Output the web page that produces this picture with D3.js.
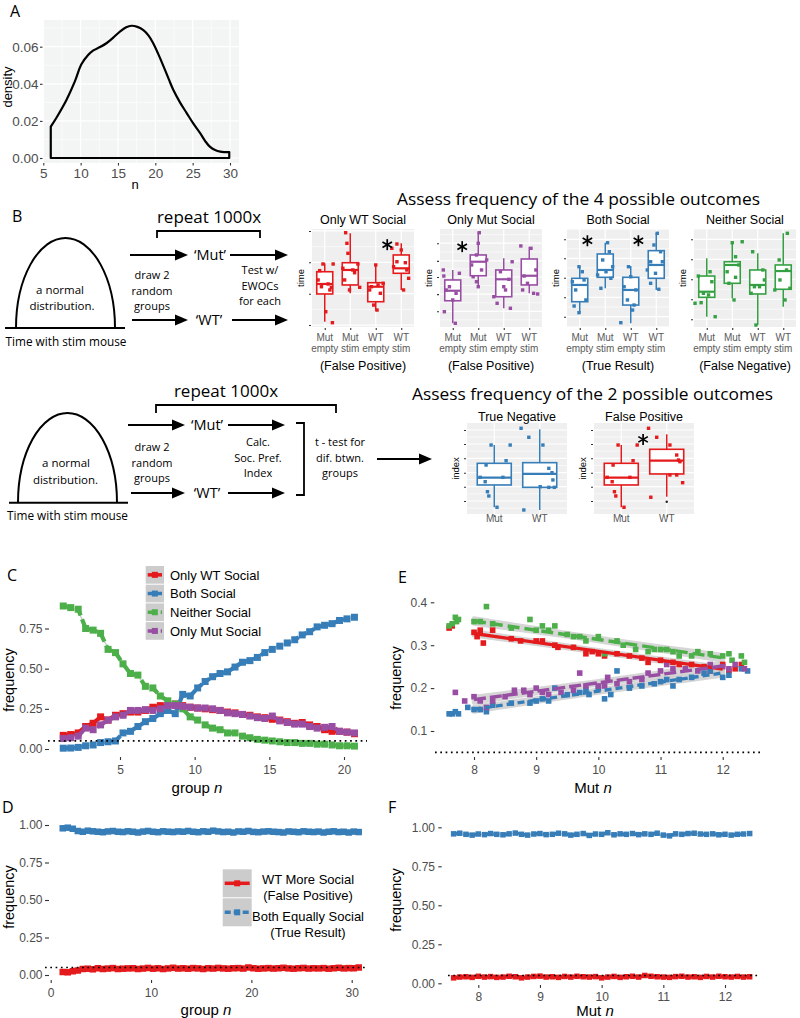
<!DOCTYPE html>
<html><head><meta charset="utf-8">
<script src="https://cdn.jsdelivr.net/npm/d3@7"></script>
<style>body{margin:0;background:#fff}svg{display:block}</style>
</head><body>
<svg id="fig" width="800" height="1018"></svg>
<script>
// ================= DATA =================
// Panel A: density of n
const densN = [6,6.8,8.1,9.2,10.1,11,11.7,12.6,13.5,14.4,15.3,16.1,16.8,17.6,18.4,19.1,19.7,20.4,21.1,21.8,22.4,23.3,24.2,25.1,26,26.7,27.3,28,28.7,29.3,29.9];
const densY = [0.0169,0.022,0.0313,0.041,0.0505,0.0555,0.058,0.0598,0.062,0.065,0.0683,0.0705,0.0713,0.0707,0.069,0.066,0.062,0.056,0.0494,0.0425,0.0368,0.030,0.0242,0.0185,0.0134,0.009,0.0061,0.0043,0.0034,0.0032,0.0032];
const aXTicks = [5,10,15,20,25,30];
const aYTicks = [0,0.02,0.04,0.06];

// Panel B: box plots (values in arbitrary "time"/"index" units 0-100)
const boxCats = ["Mut empty","Mut stim","WT empty","WT stim"];
const outcomeTitles = ["Only WT Social","Only Mut Social","Both Social","Neither Social"];
const outcomeNotes = ["(False Positive)","(False Positive)","(True Result)","(False Negative)"];
// [lo, q1, median, q3, hi]
const boxStats4 = [
  [[5.4,33.7,43.9,56.4,65.0],[34.4,42.9,58.2,65.6,95.6],[16.6,25.8,41.1,45.2,63.3],[37.8,54.8,59.9,73.5,85.4]],
  [[3.8,26.8,37.0,48.0,58.2],[41.1,52.3,66.6,73.5,97.2],[19.1,30.9,48.7,58.2,70.1],[34.4,42.9,52.3,69.4,81.9]],
  [[14.0,25.8,42.9,49.7,61.5],[39.5,50.7,58.2,74.5,86.0],[3.8,22.4,37.8,50.7,62.2],[37.8,49.7,63.3,77.9,96.2]],
  [[10.5,30.3,36.0,52.0,70.1],[29.3,44.6,63.3,66.6,86.0],[2.0,33.7,42.9,58.2,75.2],[20.7,38.5,57.1,63.3,95.6]]
];
// jittered points: [jitter (fraction of category step), value]
const boxPts4 = [
  [
    [[-0.07,64.3],[-0.2,57.5],[0.33,64.3],[0.13,43.9],[0.26,40.5],[-0.13,41.1],[0.04,15.6],[0.3,4.4],[-0.26,48],[0.2,37.8]],
    [[-0.18,96.2],[-0.13,85.4],[-0.09,75.2],[0.3,64.3],[0.17,55.4],[-0.22,48],[-0.03,37.8],[0.37,40.5],[0.1,58.2],[-0.29,59.9]],
    [[0,63.3],[0.09,42.9],[-0.17,41.1],[0.18,34.4],[-0.08,22.4],[0.05,17.3],[-0.24,37.8],[0.29,44.6]],
    [[-0.37,80.3],[-0.17,84.7],[0,78.6],[-0.17,66.6],[0.16,65.6],[0.29,49.7],[0.09,37.8],[-0.3,61.5],[0.22,58.2]]
  ],
  [
    [[-0.37,58.2],[-0.35,52],[0.26,54.8],[-0.13,41.1],[-0.26,37.8],[0.13,34.4],[-0.33,15.6],[0.1,3.8],[0,27.6]],
    [[0.04,96.2],[0,85.4],[-0.07,73.5],[0.33,68.4],[-0.26,63.3],[0.13,58.2],[-0.07,46.2],[0,41.1],[-0.2,51.3]],
    [[0.33,66.6],[-0.13,56.4],[0.2,48.7],[0,41.1],[-0.39,30.9],[-0.26,24.2],[0.26,19.1],[0.07,37.8]],
    [[-0.33,82.7],[0.07,80.3],[0.26,58.2],[-0.2,52],[-0.07,44.6],[0.17,34.4],[0.33,33.7],[-0.26,37.8]]
  ],
  [
    [[-0.03,61.5],[0.1,56.4],[-0.29,46.2],[0.17,48],[-0.16,37.8],[0.24,27.6],[-0.22,21.4],[-0.03,14.6]],
    [[0.09,86],[0.16,76.8],[-0.1,68.4],[0.29,61.5],[0.03,56.4],[-0.3,53.1],[-0.17,39.5],[0.22,49.7]],
    [[-0.09,61.5],[0,51.3],[-0.26,41.1],[0.2,37.8],[-0.13,27.6],[0.13,22.4],[-0.39,4.4],[0.07,17.3]],
    [[0.04,95.6],[-0.09,83.7],[0.17,76.8],[-0.22,66.6],[0.24,66.6],[-0.03,54.8],[-0.22,44.6],[0.1,38.5],[-0.35,58.2]]
  ],
  [
    [[-0.33,52],[0.13,56.4],[-0.13,34.4],[0.07,32.7],[-0.46,24.2],[-0.22,24.8],[0.33,10.5],[0.2,46.2]],
    [[0,86],[0.39,87],[0.13,71.7],[0.26,63.3],[-0.2,56.4],[0.13,50.7],[0.07,27.6],[-0.13,44.6]],
    [[-0.2,76.8],[0.2,58.2],[-0.13,41.1],[0.07,41.1],[-0.26,34.4],[-0.07,2],[0.26,48]],
    [[0.16,95.6],[-0.16,68.4],[0.13,58.2],[-0.33,37.8],[0.26,39.5],[0.07,27.6],[-0.13,48]]
  ]
];
const boxTicks4 = [[2,34,66,98],[16,33.5,51,67.5,85.5],[10.5,30.3,50.3,70.1,89.5],[7.9,28.3,48.7,69.1,89.5]];
// significance stars: [category index, offset (steps), value]
const stars4 = [[[3,-0.55,84]],[[0,0.37,82]],[[0,0.3,88],[2,0.3,88]],[]];

const idxCats = ["Mut","WT"];
const idxTitles = ["True Negative","False Positive"];
const idxStats = [
  [[7.4,31.9,39.9,55.7,75.8],[4.4,29.3,44.0,56.4,93.1]],
  [[7.4,31.9,39.9,55.7,75.8],[19.0,44.0,58.6,71.1,87.6]]
];
const idxPtsMut = [[-0.07,75.8],[0.35,75.8],[0.26,58.6],[-0.18,53.8],[-0.31,40.3],[-0.2,35.5],[0.19,40.3],[-0.15,24.5],[-0.12,19.8],[0.06,7.4]];
const idxPts = [
  [idxPtsMut, [[-0.41,94.2],[-0.24,84.3],[0.07,75.8],[0.2,50.2],[0.27,45.4],[0.01,30],[0.2,29.3],[0.32,29.3],[0.29,37.4],[-0.35,4.4]]],
  [idxPtsMut, [[-0.4,94.2],[-0.22,84.3],[0.07,75.8],[0.22,64.8],[0.26,59.3],[0.29,57.5],[0.07,42.9],[0.22,42.9],[0.35,34.4],[-0.35,18.4]]]
];
const idxOutliers = [[[],[]],[[],[13.5]]];
const idxTicks = [14.3,30,45.4,61.2,76.9,92.3];
const idxStars = [[],[[0,0.48,82]]];

// Panel C: frequency vs group n
const cN = [1.2,1.7,2.2,2.7,3.2,3.7,4.2,4.7,5.2,5.7,6.2,6.7,7.2,7.7,8.2,8.7,9.2,9.7,10.2,10.7,11.2,11.7,12.2,12.7,13.2,13.7,14.2,14.7,15.2,15.7,16.2,16.7,17.2,17.7,18.2,18.7,19.2,19.7,20.2,20.7];
const cOnlyWT = [0.085,0.09,0.10,0.14,0.16,0.20,0.18,0.21,0.22,0.23,0.23,0.24,0.26,0.27,0.27,0.28,0.27,0.26,0.255,0.25,0.245,0.24,0.23,0.225,0.215,0.21,0.20,0.195,0.185,0.18,0.17,0.16,0.165,0.15,0.14,0.12,0.11,0.11,0.105,0.095];
const cBoth = [0.005,0.006,0.01,0.02,0.025,0.04,0.045,0.05,0.10,0.11,0.14,0.17,0.19,0.22,0.24,0.22,0.34,0.33,0.38,0.42,0.45,0.47,0.48,0.51,0.54,0.55,0.57,0.60,0.62,0.64,0.66,0.68,0.71,0.73,0.76,0.77,0.78,0.80,0.81,0.82];
const cNeither = [0.89,0.88,0.87,0.75,0.74,0.72,0.62,0.60,0.53,0.47,0.46,0.39,0.38,0.33,0.30,0.28,0.25,0.20,0.18,0.15,0.13,0.12,0.10,0.10,0.08,0.07,0.06,0.055,0.05,0.045,0.04,0.04,0.035,0.035,0.03,0.03,0.025,0.02,0.02,0.018];
const cOnlyMut = [0.065,0.07,0.08,0.13,0.12,0.15,0.18,0.20,0.21,0.24,0.24,0.245,0.24,0.25,0.27,0.27,0.265,0.26,0.255,0.255,0.25,0.24,0.225,0.22,0.215,0.205,0.195,0.19,0.205,0.175,0.165,0.155,0.155,0.14,0.13,0.135,0.14,0.11,0.105,0.10];
const cLabels = ["Only WT Social","Both Social","Neither Social","Only Mut Social"];
const cXTicks = [5,10,15,20];
const cYTicks = [0,0.25,0.5,0.75];
const alphaLine = 0.05;

// Panel E: frequency vs Mut n ([x, y])
const eOnlyWT = [[7.6,0.34],[7.65,0.345],[8.0,0.33],[8.05,0.32],[8.1,0.335],[8.15,0.305],[8.3,0.335],[8.6,0.315],[8.75,0.31],[9.0,0.31],[9.1,0.31],[9.3,0.3],[9.35,0.295],[9.6,0.295],[9.8,0.28],[9.9,0.285],[10.0,0.28],[10.1,0.275],[10.3,0.28],[10.5,0.275],[10.7,0.27],[10.8,0.26],[11.0,0.265],[11.2,0.26],[11.3,0.255],[11.5,0.255],[11.7,0.25],[11.8,0.24],[12.0,0.255],[12.1,0.24],[12.2,0.245],[12.3,0.255]];
const eBoth = [[7.6,0.14],[7.65,0.14],[7.7,0.145],[7.75,0.14],[7.9,0.155],[8.0,0.15],[8.1,0.15],[8.2,0.145],[8.3,0.16],[8.6,0.165],[8.9,0.165],[9.0,0.17],[9.1,0.175],[9.2,0.17],[9.3,0.2],[9.5,0.185],[9.7,0.19],[9.8,0.195],[9.85,0.185],[10.0,0.2],[10.1,0.175],[10.2,0.185],[10.3,0.24],[10.5,0.2],[10.7,0.205],[10.9,0.21],[11.0,0.215],[11.1,0.22],[11.2,0.205],[11.3,0.22],[11.5,0.225],[11.7,0.235],[11.8,0.24],[12.0,0.225],[12.1,0.23],[12.3,0.245],[12.4,0.24]];
const eNeither = [[7.6,0.345],[7.65,0.35],[7.7,0.365],[7.72,0.355],[7.75,0.36],[8.0,0.355],[8.1,0.355],[8.2,0.39],[8.3,0.35],[8.6,0.34],[8.9,0.36],[9.0,0.335],[9.1,0.345],[9.2,0.335],[9.3,0.345],[9.5,0.325],[9.6,0.32],[9.7,0.32],[9.8,0.31],[10.0,0.32],[10.1,0.28],[10.3,0.31],[10.4,0.3],[10.6,0.29],[10.8,0.285],[10.9,0.29],[11.0,0.29],[11.1,0.29],[11.2,0.285],[11.3,0.275],[11.5,0.275],[11.6,0.285],[11.8,0.28],[12.0,0.275],[12.1,0.28],[12.15,0.265],[12.3,0.275],[12.35,0.26]];
const eOnlyMut = [[7.7,0.19],[7.85,0.17],[8.0,0.18],[8.1,0.17],[8.2,0.155],[8.3,0.17],[8.5,0.18],[8.65,0.195],[8.8,0.195],[8.9,0.185],[9.0,0.2],[9.1,0.19],[9.2,0.185],[9.4,0.19],[9.6,0.195],[9.7,0.235],[9.8,0.205],[10.0,0.205],[10.1,0.205],[10.15,0.225],[10.3,0.21],[10.5,0.215],[10.7,0.22],[10.8,0.235],[11.0,0.24],[11.1,0.255],[11.2,0.245],[11.4,0.245],[11.6,0.24],[11.8,0.255],[12.0,0.25],[12.1,0.245],[12.2,0.255],[12.35,0.245]];
const eFitRange = [8,12];
const eXTicks = [8,9,10,11,12];
const eYTicks = [0.1,0.2,0.3,0.4];

// Panel D: frequency vs group n, null effect
const dN = [1.2,1.7,2.2,2.7,3.2,3.7,4.2,4.7,5.2,5.7,6.2,6.7,7.2,7.7,8.2,8.7,9.2,9.7,10.2,10.7,11.2,11.7,12.2,12.7,13.2,13.7,14.2,14.7,15.2,15.7,16.2,16.7,17.2,17.7,18.2,18.7,19.2,19.7,20.2,20.7,21.2,21.7,22.2,22.7,23.2,23.7,24.2,24.7,25.2,25.7,26.2,26.7,27.2,27.7,28.2,28.7,29.2,29.7,30.2,30.7];
const dFalsePos = [0.02,0.018,0.025,0.03,0.04,0.042,0.038,0.045,0.04,0.043,0.046,0.04,0.042,0.044,0.045,0.04,0.043,0.047,0.042,0.045,0.04,0.044,0.048,0.043,0.045,0.042,0.046,0.044,0.04,0.045,0.043,0.047,0.044,0.042,0.045,0.046,0.043,0.05,0.045,0.042,0.044,0.046,0.043,0.045,0.048,0.044,0.042,0.045,0.047,0.043,0.045,0.044,0.046,0.042,0.045,0.048,0.044,0.046,0.045,0.05];
const dTrue = [0.978,0.982,0.975,0.96,0.955,0.962,0.958,0.955,0.952,0.957,0.96,0.955,0.953,0.958,0.955,0.95,0.956,0.96,0.955,0.952,0.958,0.955,0.953,0.957,0.955,0.96,0.955,0.952,0.958,0.955,0.962,0.957,0.953,0.955,0.95,0.957,0.955,0.96,0.954,0.952,0.956,0.958,0.955,0.953,0.95,0.957,0.955,0.952,0.958,0.955,0.953,0.956,0.95,0.955,0.958,0.953,0.955,0.95,0.956,0.953];
const dLabels = [["WT More Social","(False Positive)"],["Both Equally Social","(True Result)"]];
const dXTicks = [0,10,20,30];
const dYTicks = [0,0.25,0.5,0.75,1];

// Panel F: frequency vs Mut n, null effect
const fN = [7.6,7.7,7.8,7.9,8.0,8.1,8.2,8.3,8.4,8.5,8.6,8.7,8.8,8.9,9.0,9.1,9.2,9.3,9.4,9.5,9.6,9.7,9.8,9.9,10.0,10.1,10.2,10.3,10.4,10.5,10.6,10.7,10.8,10.9,11.0,11.1,11.2,11.3,11.4,11.5,11.6,11.7,11.8,11.9,12.0,12.1,12.2,12.3,12.4];
const fTrue = [0.958,0.962,0.955,0.95,0.957,0.953,0.96,0.955,0.952,0.958,0.963,0.955,0.95,0.957,0.96,0.953,0.955,0.962,0.958,0.95,0.955,0.96,0.948,0.957,0.955,0.965,0.952,0.958,0.955,0.96,0.953,0.958,0.955,0.962,0.95,0.945,0.958,0.955,0.96,0.962,0.957,0.955,0.958,0.952,0.955,0.95,0.955,0.957,0.96];
const fFalsePos = [0.035,0.04,0.042,0.038,0.045,0.04,0.043,0.038,0.04,0.045,0.042,0.035,0.04,0.044,0.046,0.04,0.042,0.038,0.044,0.04,0.045,0.042,0.04,0.043,0.035,0.04,0.044,0.038,0.042,0.045,0.04,0.05,0.045,0.042,0.04,0.038,0.043,0.045,0.04,0.042,0.038,0.044,0.04,0.045,0.042,0.04,0.044,0.04,0.042];
const fXTicks = [8,9,10,11,12];

// ================= STYLE =================
const RED = "#E41A1C", BLUE = "#377EB8", GREEN = "#4DAF4A", PURPLE = "#984EA3", GREENBOX = "#35a043";
const GG = "'Liberation Sans', Arial, sans-serif";
const SF = "'Open Sans', 'Liberation Sans', sans-serif";
const TICKCOL = "#4d4d4d";
const svg = d3.select("#fig");

function styleAxis(sel, size) {
  sel.select(".domain").remove();
  sel.attr("font-family", GG).attr("font-size", size);
  sel.selectAll(".tick line").attr("stroke", "#333").attr("stroke-width", 1.1);
  sel.selectAll(".tick text").attr("fill", TICKCOL);
}
function txt(g, s, x, y, o = {}) {
  const t = g.append("text").attr("x", x).attr("y", y).text(s)
    .attr("font-family", o.ff || SF).attr("font-size", o.fs || 12)
    .attr("text-anchor", o.anchor || "middle").attr("fill", o.fill || "#000");
  if (o.rot) t.attr("transform", `rotate(${o.rot},${x},${y})`);
  if (o.italic) t.attr("font-style", "italic");
  return t;
}
function arrow(g, x1, x2, y) {
  g.append("line").attr("x1", x1).attr("x2", x2 - 10).attr("y1", y).attr("y2", y)
    .attr("stroke", "#000").attr("stroke-width", 2);
  g.append("path").attr("d", `M${x2 - 13},${y - 5.5}L${x2},${y}L${x2 - 13},${y + 5.5}Z`).attr("fill", "#000");
}
function asterisk(g, cx, cy, r) {
  for (let k = 0; k < 3; k++) {
    const a = Math.PI / 2 + k * Math.PI / 3;
    g.append("line").attr("x1", cx + r * Math.cos(a)).attr("y1", cy + r * Math.sin(a))
      .attr("x2", cx - r * Math.cos(a)).attr("y2", cy - r * Math.sin(a))
      .attr("stroke", "#000").attr("stroke-width", 1.7);
  }
}
function dotted(g, x1, x2, y) {
  g.append("line").attr("x1", x1).attr("x2", x2).attr("y1", y).attr("y2", y)
    .attr("stroke", "#000").attr("stroke-width", 1.7).attr("stroke-dasharray", "1.7,3.6");
}

// ================= PANEL A =================
{
  const g = svg.append("g");
  const x = d3.scaleLinear().domain([5, 30]).range([43.3, 230]);
  const y = d3.scaleLinear().domain([0, 0.06]).range([158, 46.7]);
  const X0 = 43, X1 = 239, Y0 = 20, Y1 = 163;
  g.append("rect").attr("x", X0).attr("y", Y0).attr("width", X1 - X0).attr("height", Y1 - Y0).attr("fill", "#f3f4f4");
  const xm = aXTicks.slice(0, -1).map(d => d + 2.5);
  const ym = [0.01, 0.03, 0.05, 0.07];
  g.selectAll(null).data(xm).join("line").attr("x1", d => x(d)).attr("x2", d => x(d)).attr("y1", Y0).attr("y2", Y1).attr("stroke", "#fff").attr("stroke-width", 0.6);
  g.selectAll(null).data(ym).join("line").attr("y1", d => y(d)).attr("y2", d => y(d)).attr("x1", X0).attr("x2", X1).attr("stroke", "#fff").attr("stroke-width", 0.6);
  g.selectAll(null).data(aXTicks).join("line").attr("x1", d => x(d)).attr("x2", d => x(d)).attr("y1", Y0).attr("y2", Y1).attr("stroke", "#fff").attr("stroke-width", 1.2);
  g.selectAll(null).data(aYTicks).join("line").attr("y1", d => y(d)).attr("y2", d => y(d)).attr("x1", X0).attr("x2", X1).attr("stroke", "#fff").attr("stroke-width", 1.2);
  const pts = densN.map((n, i) => [x(n), y(densY[i])]);
  const curve = d3.line().curve(d3.curveCatmullRom.alpha(0.5))(pts);
  const d = `M${x(densN[0])},${y(0)}L` + curve.slice(1) + `L${x(densN[densN.length - 1])},${y(0)}Z`;
  g.append("path").attr("d", d).attr("fill", "none").attr("stroke", "#000").attr("stroke-width", 2.2).attr("stroke-linejoin", "round");
  g.append("g").attr("transform", `translate(${X0 - 0.5},0)`)
    .call(d3.axisLeft(y).tickValues(aYTicks).tickFormat(d3.format(".2f")).tickSize(2.5).tickPadding(1.5))
    .call(s => styleAxis(s, 13.5));
  g.append("g").attr("transform", `translate(0,${Y1})`)
    .call(d3.axisBottom(x).tickValues(aXTicks).tickFormat(d3.format("d")).tickSize(2.5).tickPadding(3))
    .call(s => styleAxis(s, 13.5));
  txt(g, "density", 12, 87, { ff: GG, fs: 13, rot: -90 });
  txt(g, "n", 135, 189, { ff: GG, fs: 13 });
  txt(g, "A", 10, 17, { fs: 16, anchor: "start" });
}

// ================= PANEL B schematic =================
function bell(g, cx, base, a, b, x0, x1) {
  g.append("path").attr("d", `M${cx - a},${base}A${a},${b} 0 0 1 ${cx + a},${base}`)
    .attr("fill", "none").attr("stroke", "#000").attr("stroke-width", 2);
  g.append("line").attr("x1", x0).attr("x2", x1).attr("y1", base).attr("y2", base).attr("stroke", "#000").attr("stroke-width", 2);
}
{
  const g = svg.append("g");
  txt(g, "B", 12, 221.5, { fs: 16, anchor: "start" });
  // top row
  bell(g, 65.5, 328, 49.5, 90, 5, 125);
  txt(g, "a normal", 60, 294, { fs: 11.5 });
  txt(g, "distribution.", 62, 309.5, { fs: 11.5 });
  txt(g, "Time  with stim mouse", 66, 345.5, { fs: 11.8 });
  txt(g, "repeat 1000x", 209, 223, { fs: 17 });
  g.append("path").attr("d", "M157,238V231H260V238").attr("fill", "none").attr("stroke", "#000").attr("stroke-width", 1.8);
  arrow(g, 130, 188, 255); arrow(g, 230, 288, 255);
  arrow(g, 132, 188, 320); arrow(g, 232, 288, 320);
  txt(g, "\u2018Mut\u2019", 210, 260, { fs: 14.5 });
  txt(g, "\u2018WT\u2019", 209, 325, { fs: 14.5 });
  ["draw 2", "random", "groups"].forEach((s, i) => txt(g, s, 152, 279 + i * 15.5, { fs: 11 }));
  ["Test w/", "EWOCs", "for each"].forEach((s, i) => txt(g, s, 260, 274 + i * 15.5, { fs: 11 }));
  txt(g, "Assess frequency of the 4 possible outcomes", 578.5, 205, { fs: 16 }).attr("textLength", 363).attr("lengthAdjust", "spacingAndGlyphs");

  // bottom row
  bell(g, 67.5, 502.7, 49.5, 89.7, 9, 128);
  txt(g, "a normal", 66, 467, { fs: 11.5 });
  txt(g, "distribution.", 65.5, 484, { fs: 11.5 });
  txt(g, "Time  with stim mouse", 67.5, 520, { fs: 11.8 });
  txt(g, "repeat 1000x", 226, 397, { fs: 17 });
  g.append("path").attr("d", "M156,413V405H336V413").attr("fill", "none").attr("stroke", "#000").attr("stroke-width", 1.8);
  arrow(g, 128, 185, 425); arrow(g, 228, 285, 425);
  arrow(g, 131, 185, 493); arrow(g, 228, 285, 493);
  txt(g, "\u2018Mut\u2019", 207, 430, { fs: 14.5 });
  txt(g, "\u2018WT\u2019", 207, 498, { fs: 14.5 });
  ["draw 2", "random", "groups"].forEach((s, i) => txt(g, s, 152, 451 + i * 15.5, { fs: 11 }));
  ["Calc.", "Soc. Pref.", "Index"].forEach((s, i) => txt(g, s, 258, 446 + i * 15.5, { fs: 11 }));
  g.append("path").attr("d", "M296,423H304V495H296").attr("fill", "none").attr("stroke", "#000").attr("stroke-width", 1.8);
  ["t - test for", "dif. btwn.", "groups"].forEach((s, i) => txt(g, s, 340, 446 + i * 15.5, { fs: 11 }));
  arrow(g, 377, 432, 459);
  txt(g, "Assess frequency of the 2 possible outcomes", 592.5, 400, { fs: 16 }).attr("textLength", 361).attr("lengthAdjust", "spacingAndGlyphs");
}

// ================= PANEL B box plots =================
function boxPanel(o) {
  const g = svg.append("g");
  const x = d3.scalePoint().domain(d3.range(o.stats.length)).range([o.x0, o.x1]).padding(o.pad);
  const step = x.step();
  const y = d3.scaleLinear().domain([0, 100]).range([o.y1, o.y0]);
  g.append("rect").attr("x", o.x0).attr("y", o.y0).attr("width", o.x1 - o.x0).attr("height", o.y1 - o.y0).attr("fill", "#efefef");
  const tk = o.ticks;
  const mids = tk.slice(1).map((t, i) => (t + tk[i]) / 2);
  const tstep = tk[1] - tk[0];
  mids.push(tk[tk.length - 1] + tstep / 2); mids.push(tk[0] - tstep / 2);
  g.selectAll(null).data(mids.filter(m => m > 0 && m < 100)).join("line").attr("x1", o.x0).attr("x2", o.x1)
    .attr("y1", d => y(d)).attr("y2", d => y(d)).attr("stroke", "#fff").attr("stroke-width", 0.6);
  g.selectAll(null).data(tk).join("line").attr("x1", o.x0).attr("x2", o.x1)
    .attr("y1", d => y(d)).attr("y2", d => y(d)).attr("stroke", "#fff").attr("stroke-width", 1.2);
  g.selectAll(null).data(x.domain()).join("line").attr("x1", d => x(d)).attr("x2", d => x(d))
    .attr("y1", o.y0).attr("y2", o.y1).attr("stroke", "#fff").attr("stroke-width", 1.2);
  g.append("g").attr("transform", `translate(${o.x0 - 1},0)`)
    .call(d3.axisLeft(y).tickValues(tk).tickFormat("").tickSize(2)).call(s => styleAxis(s, 9));
  g.append("g").attr("transform", `translate(0,${o.y1 + 1})`)
    .call(d3.axisBottom(x).tickFormat("").tickSize(2)).call(s => styleAxis(s, 9));
  o.stats.forEach((s, i) => {
    const [lo, q1, med, q3, hi] = s, cx = x(i), w = o.boxW;
    g.append("line").attr("x1", cx).attr("x2", cx).attr("y1", y(hi)).attr("y2", y(q3)).attr("stroke", o.color).attr("stroke-width", 1.5);
    g.append("line").attr("x1", cx).attr("x2", cx).attr("y1", y(q1)).attr("y2", y(lo)).attr("stroke", o.color).attr("stroke-width", 1.5);
    g.append("rect").attr("x", cx - w / 2).attr("y", y(q3)).attr("width", w).attr("height", y(q1) - y(q3))
      .attr("fill", "#fff").attr("stroke", o.color).attr("stroke-width", 1.6);
    g.append("line").attr("x1", cx - w / 2).attr("x2", cx + w / 2).attr("y1", y(med)).attr("y2", y(med)).attr("stroke", o.color).attr("stroke-width", 2.2);
    (o.outliers ? o.outliers[i] : []).forEach(v => {
      g.append("circle").attr("cx", cx).attr("cy", y(v)).attr("r", 1.2).attr("fill", "#222");
    });
  });
  o.pts.forEach((arr, i) => {
    g.selectAll(null).data(arr).join("rect")
      .attr("x", d => x(i) + d[0] * step - 1.7).attr("y", d => y(d[1]) - 1.7)
      .attr("width", 3.4).attr("height", 3.4).attr("fill", o.color);
  });
  (o.stars || []).forEach(st => asterisk(g, x(st[0]) + st[1] * step, y(st[2]), 5.5));
  txt(g, o.title, (o.x0 + o.x1) / 2, o.titleY, { ff: GG, fs: 12.5 });
  if (o.note) txt(g, o.note, (o.x0 + o.x1) / 2, o.noteY, { ff: GG, fs: 12.5 });
  txt(g, o.ylab, o.x0 - 8, (o.y0 + o.y1) / 2, { ff: GG, fs: 9.5, rot: -90 });
  o.cats.forEach((c, i) => {
    c.split(" ").forEach((part, j) => txt(g, part, x(i), o.catY + j * 11.5, { ff: GG, fs: 10, fill: "#5a5a5a" }));
  });
}
const topX0 = [312, 440, 567, 694];
const topColors = [RED, PURPLE, BLUE, GREENBOX];
boxStats4.forEach((st, k) => boxPanel({
  x0: topX0[k], x1: topX0[k] + 102, y0: 229, y1: 327, pad: 0.5, boxW: 16,
  stats: st, pts: boxPts4[k], ticks: boxTicks4[k], color: topColors[k], stars: stars4[k],
  title: outcomeTitles[k], titleY: 223.5, note: outcomeNotes[k], noteY: 369.5,
  ylab: "time", cats: boxCats, catY: 340.5
}));
const idxX0 = [467, 594];
const idxColors = [BLUE, RED];
idxStats.forEach((st, k) => boxPanel({
  x0: idxX0[k], x1: idxX0[k] + 100, y0: 423, y1: 514, pad: 0.6, boxW: 34,
  stats: st, pts: idxPts[k], ticks: idxTicks, color: idxColors[k], stars: idxStars[k], outliers: idxOutliers[k],
  title: idxTitles[k], titleY: 420.5, ylab: "index", cats: idxCats, catY: 522
}));

// ================= series helper =================
function series(g, xs, ys, sx, sy, color, dash, size, lw, smooth) {
  const pts = xs.map((v, i) => [sx(v), sy(ys[i])]);
  if (smooth) g.append("path").attr("d", d3.line().curve(d3.curveBasis)(pts)).attr("fill", "none").attr("stroke", "#c8c8c8").attr("stroke-width", 1.2);
  g.append("path").attr("d", d3.line()(pts)).attr("fill", "none").attr("stroke", color)
    .attr("stroke-width", lw).attr("stroke-dasharray", dash);
  g.selectAll(null).data(pts).join("rect").attr("x", d => d[0] - size / 2).attr("y", d => d[1] - size / 2)
    .attr("width", size).attr("height", size).attr("fill", color);
}
function legendKey(g, x0, y0, w, h, color, dash) {
  g.append("rect").attr("x", x0).attr("y", y0).attr("width", w).attr("height", h).attr("fill", "#cccccc");
  g.append("line").attr("x1", x0 + 2).attr("x2", x0 + w - 2).attr("y1", y0 + h / 2).attr("y2", y0 + h / 2)
    .attr("stroke", color).attr("stroke-width", 3.5).attr("stroke-dasharray", dash);
  g.append("rect").attr("x", x0 + w / 2 - 3).attr("y", y0 + h / 2 - 3).attr("width", 6).attr("height", 6).attr("fill", color);
}

// ================= PANEL C =================
{
  const g = svg.append("g");
  const x = d3.scaleLinear().domain([5, 20]).range([120, 344]);
  const y = d3.scaleLinear().domain([0, 0.75]).range([749, 628.5]);
  const cSeries = [cOnlyWT, cBoth, cNeither, cOnlyMut];
  const cCols = [RED, BLUE, GREEN, PURPLE];
  const cDash = [null, "6,3", "9,4", "10,3"];
  cSeries.forEach((s, i) => g.append("path").attr("d", d3.line().curve(d3.curveBasis)(cN.map((v, j) => [x(v), y(s[j])])))
    .attr("fill", "none").attr("stroke", "#c8c8c8").attr("stroke-width", 1.2));
  cSeries.forEach((s, i) => series(g, cN, s, x, y, cCols[i], cDash[i], 7, 4.2, false));
  dotted(g, 48, 367, y(alphaLine));
  g.append("g").attr("transform", "translate(49,0)")
    .call(d3.axisLeft(y).tickValues(cYTicks).tickFormat(d3.format(".2f")).tickSize(4).tickPadding(2.5)).call(s => styleAxis(s, 12));
  g.append("g").attr("transform", "translate(0,757)")
    .call(d3.axisBottom(x).tickValues(cXTicks).tickFormat(d3.format("d")).tickSize(3).tickPadding(5.5)).call(s => styleAxis(s, 12));
  txt(g, "frequency", 14, 680, { ff: GG, fs: 14.5, rot: -90 });
  const t = txt(g, "group  ", 197, 793, { ff: GG, fs: 15 });
  t.append("tspan").attr("font-style", "italic").text("n");
  cLabels.forEach((lab, i) => {
    legendKey(g, 145.7, 566 + i * 18.7, 18.3, 17.7, cCols[i], cDash[i]);
    txt(g, lab, 170, 566 + i * 18.7 + 13.5, { ff: GG, fs: 13, anchor: "start" });
  });
  txt(g, "C", 7, 581, { fs: 16, anchor: "start" });
}

// ================= PANEL E =================
function linfit(pts) {
  const n = pts.length, mx = d3.mean(pts, d => d[0]), my = d3.mean(pts, d => d[1]);
  const sxx = d3.sum(pts, d => (d[0] - mx) ** 2), sxy = d3.sum(pts, d => (d[0] - mx) * (d[1] - my));
  const b = sxy / sxx, a = my - b * mx;
  const s = Math.sqrt(d3.sum(pts, d => (d[1] - a - b * d[0]) ** 2) / (n - 2));
  return { f: v => a + b * v, se: v => s * Math.sqrt(1 / n + (v - mx) ** 2 / sxx) };
}
{
  const g = svg.append("g");
  const x = d3.scaleLinear().domain([8, 12]).range([474, 722.7]);
  const y = d3.scaleLinear().domain([0.1, 0.4]).range([731, 602.3]);
  const eSeries = [eOnlyWT, eBoth, eNeither, eOnlyMut];
  const eCols = [RED, BLUE, GREEN, PURPLE];
  const eDash = [null, "7,4", "12,5", "12,4"];
  dotted(g, 435, 760, y(alphaLine));
  const grid = d3.range(0, 21).map(i => eFitRange[0] + i * (eFitRange[1] - eFitRange[0]) / 20);
  const fits = eSeries.map(linfit);
  fits.forEach(fit => {
    const area = d3.area().x(v => x(v)).y0(v => y(fit.f(v) - 1.96 * fit.se(v))).y1(v => y(fit.f(v) + 1.96 * fit.se(v)));
    g.append("path").attr("d", area(grid)).attr("fill", "#cfcfcf").attr("stroke", "#cfcfcf").attr("stroke-width", 4.5).attr("stroke-linejoin", "round").attr("opacity", 0.85);
  });
  eSeries.forEach((s, i) => g.selectAll(null).data(s).join("rect")
    .attr("x", d => x(d[0]) - 2.8).attr("y", d => y(d[1]) - 2.8).attr("width", 5.6).attr("height", 5.6).attr("fill", eCols[i]));
  fits.forEach((fit, i) => g.append("path").attr("d", d3.line().x(v => x(v)).y(v => y(fit.f(v)))(eFitRange))
    .attr("fill", "none").attr("stroke", eCols[i]).attr("stroke-width", 3.4).attr("stroke-dasharray", eDash[i]));
  g.append("g").attr("transform", "translate(434.3,0)")
    .call(d3.axisLeft(y).tickValues(eYTicks).tickFormat(d3.format(".1f")).tickSize(3.5).tickPadding(3.5)).call(s => styleAxis(s, 12));
  g.append("g").attr("transform", "translate(0,757)")
    .call(d3.axisBottom(x).tickValues(eXTicks).tickFormat(d3.format("d")).tickSize(3).tickPadding(5.5)).call(s => styleAxis(s, 12));
  txt(g, "frequency", 401, 678, { ff: GG, fs: 14.5, rot: -90 });
  const t = txt(g, "Mut ", 593, 793, { ff: GG, fs: 15 });
  t.append("tspan").attr("font-style", "italic").text("n");
  txt(g, "E", 398, 583, { fs: 16, anchor: "start" });
}

// ================= PANEL D =================
{
  const g = svg.append("g");
  const x = d3.scaleLinear().domain([0, 30]).range([50.7, 351.7]);
  const y = d3.scaleLinear().domain([0, 1]).range([975, 825]);
  series(g, dN, dTrue, x, y, BLUE, "6,3", 6.5, 4, true);
  series(g, dN, dFalsePos, x, y, RED, null, 6.5, 4, true);
  dotted(g, 45, 368, y(alphaLine));
  g.append("g").attr("transform", "translate(49,0)")
    .call(d3.axisLeft(y).tickValues(dYTicks).tickFormat(d3.format(".2f")).tickSize(4).tickPadding(2.5)).call(s => styleAxis(s, 12));
  g.append("g").attr("transform", "translate(0,980)")
    .call(d3.axisBottom(x).tickValues(dXTicks).tickFormat(d3.format("d")).tickSize(3).tickPadding(5)).call(s => styleAxis(s, 12));
  txt(g, "frequency", 14, 897, { ff: GG, fs: 14.5, rot: -90 });
  const t = txt(g, "group ", 206, 1015, { ff: GG, fs: 15 });
  t.append("tspan").attr("font-style", "italic").text("n");
  const dCols = [RED, BLUE], dDash = [null, "6,3"];
  dLabels.forEach((lab, i) => {
    legendKey(g, 222.7, 869.3 + i * 29, 29, 28, dCols[i], dDash[i]);
    txt(g, lab[0], 308, 883.5 + i * 37.7, { ff: GG, fs: 13 });
    txt(g, lab[1], 308, 899.5 + i * 37.7, { ff: GG, fs: 13 });
  });
  txt(g, "D", 2, 813, { fs: 16, anchor: "start" });
}

// ================= PANEL F =================
{
  const g = svg.append("g");
  const x = d3.scaleLinear().domain([8, 12]).range([478.3, 725]);
  const y = d3.scaleLinear().domain([0, 1]).range([983.3, 827.3]);
  series(g, fN, fTrue, x, y, BLUE, "6,4", 5.5, 3.6, true);
  series(g, fN, fFalsePos, x, y, RED, null, 5.5, 3.6, true);
  dotted(g, 448, 758, y(alphaLine));
  g.append("g").attr("transform", "translate(441.7,0)")
    .call(d3.axisLeft(y).tickValues(dYTicks).tickFormat(d3.format(".2f")).tickSize(3.4).tickPadding(3.3)).call(s => styleAxis(s, 12));
  g.append("g").attr("transform", "translate(0,985)")
    .call(d3.axisBottom(x).tickValues(fXTicks).tickFormat(d3.format("d")).tickSize(3).tickPadding(4)).call(s => styleAxis(s, 12));
  txt(g, "frequency", 401, 900, { ff: GG, fs: 14.5, rot: -90 });
  const t = txt(g, "Mut ", 595, 1016, { ff: GG, fs: 15 });
  t.append("tspan").attr("font-style", "italic").text("n");
  txt(g, "F", 388, 813, { fs: 16, anchor: "start" });
}
</script>
</body></html>
